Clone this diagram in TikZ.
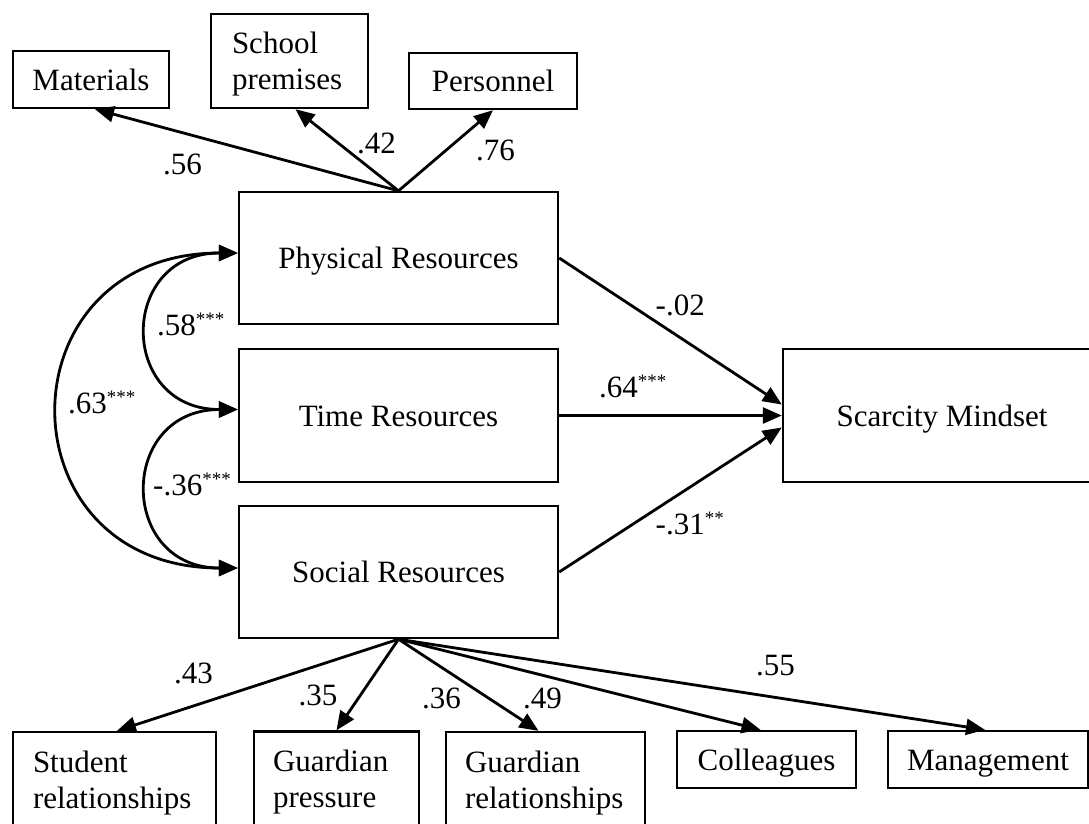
\documentclass[tikz,border=0pt]{standalone}
\usepackage{fontspec}
\setmainfont{Liberation Serif}
\usetikzlibrary{arrows.meta,calc}
\newcommand\mystars[1]{\textsuperscript{\fontsize{19}{19}\selectfont #1}}
\begin{document}
\begin{tikzpicture}[x=1pt,y=-1pt,
  every node/.style={font=\fontsize{31}{36}\selectfont},
  onebox/.style={draw,line width=2.4pt,inner sep=0pt,text height=21pt,text depth=0pt,align=center},
  twobox/.style={draw,line width=2.4pt,inner ysep=0pt,text height=21pt,text depth=36pt,align=left},
  lbl/.style={inner sep=0pt,anchor=base west},
  arr/.style={line width=2.8pt,-{Triangle[length=19pt,width=16pt]}},
  cov/.style={line width=2.8pt,{Triangle[length=19pt,width=16pt]}-{Triangle[length=19pt,width=16pt]}}]
\clip (0,0) rectangle (1089,823);
\useasboundingbox (0,0) rectangle (1089,823);
% boxes
\node[onebox,minimum width=156pt,minimum height=57pt] (mat) at (91,79.5) {Materials};
\node[twobox,inner xsep=21pt,text width=115pt,minimum height=94pt] (sch) at (289.5,61) {School\\premises};
\node[onebox,minimum width=168pt,minimum height=56pt] (pers) at (493,81) {Personnel};
\node[onebox,minimum width=319pt,minimum height=132pt] (phys) at (398.5,258) {Physical Resources};
\node[onebox,minimum width=319pt,minimum height=133pt] (time) at (398.5,415.5) {Time Resources};
\node[onebox,minimum width=319pt,minimum height=132pt] (soc) at (398.5,572) {Social Resources};
\node[onebox,minimum width=318pt,minimum height=133pt] (scar) at (942,415.5) {Scarcity Mindset};
\node[twobox,inner xsep=20pt,text width=163pt,minimum height=95pt] (stu) at (114.5,779.5) {Student\\relationships};
\node[twobox,inner xsep=19pt,text width=127pt,minimum height=95pt] (gp) at (336.5,779) {Guardian\\pressure};
\node[twobox,inner xsep=19pt,text width=161pt,minimum height=95pt] (gr) at (545.5,779.5) {Guardian\\relationships};
\node[onebox,minimum width=179pt,minimum height=57pt] (col) at (766.5,759.5) {Colleagues};
\node[onebox,minimum width=200pt,minimum height=57pt] (man) at (988,759.5) {Management};
% loadings
\draw[arr] (phys.north) -- ($(mat.south)+(4,0)$);
\draw[arr] (phys.north) -- ($(sch.south)+(6,0)$);
\draw[arr] (phys.north) -- (pers.south);
\draw[arr] (soc.south) -- ($(stu.north)+(2.5,0)$);
\draw[arr] (soc.south) -- (gp.north);
\draw[arr] (soc.south) -- ($(gr.north)+(-7,0)$);
\draw[arr] (soc.south) -- ($(col.north)+(-6,0)$);
\draw[arr] (soc.south) -- ($(man.north)+(-3,0)$);
% paths
\draw[arr] (phys.east) -- ($(scar.west)+(0,-11)$);
\draw[arr] (time.east) -- (scar.west);
\draw[arr] (soc.east) -- ($(scar.west)+(0,12)$);
% covariances
\coordinate (pt) at ($(phys.west)+(0,-5)$);
\coordinate (tt) at ($(time.west)+(0,-6)$);
\coordinate (st) at ($(soc.west)+(0,-4)$);
\draw[cov] (pt) .. controls +(-120,0) and +(-120,0) .. (tt);
\draw[cov] (tt) .. controls +(-120,0) and +(-120,0) .. (st);
\draw[cov] (pt) .. controls +(-238,0) and +(-238,0) .. (st);
% labels
\node[lbl] (l56) at (163,174) {.56};
\node[lbl] (l42) at (357,153) {.42};
\node[lbl] (l76) at (476,160) {.76};
\node[lbl] (l58) at (157,335) {.58\mystars{***}};
\node[lbl] (l63) at (68,413) {.63\mystars{***}};
\node[lbl] (l36n) at (153,495) {-.36\mystars{***}};
\node[lbl] (l02) at (655.5,315) {-.02};
\node[lbl] (l64) at (599,397) {.64\mystars{***}};
\node[lbl] (l31) at (655.5,534) {-.31\mystars{**}};
\node[lbl] (l43) at (174,683) {.43};
\node[lbl] (l35) at (298.5,705) {.35};
\node[lbl] (l36) at (422,708) {.36};
\node[lbl] (l49) at (523,708) {.49};
\node[lbl] (l55) at (756,675) {.55};
\end{tikzpicture}
\end{document}
